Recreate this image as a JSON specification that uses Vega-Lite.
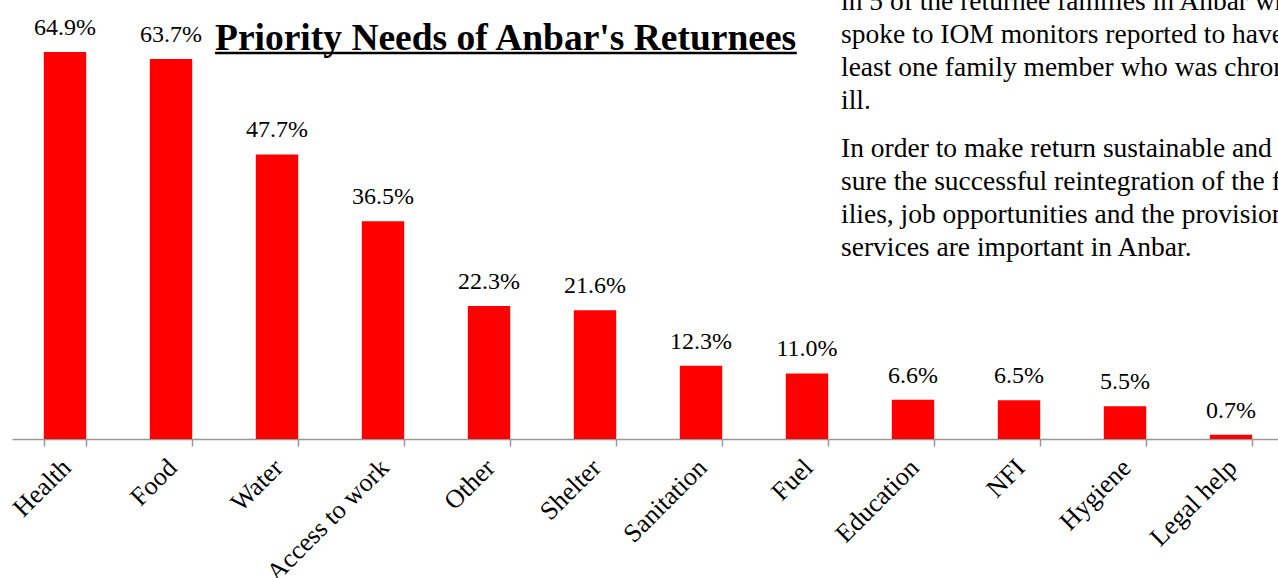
{
  "$schema": "https://vega.github.io/schema/vega-lite/v6.json",
  "width": 1272,
  "height": 439,
  "autosize": {"type": "none"},
  "padding": {"left": 12, "top": 0, "right": 0, "bottom": 139},
  "background": "white",
  "config": {"view": {"stroke": null}, "font": "Liberation Serif"},
  "title": {
    "text": "Priority Needs of Anbar's Returnees",
    "anchor": "start",
    "frame": "group",
    "dx": 203,
    "offset": -70,
    "fontSize": 37.5,
    "fontWeight": "bold",
    "font": "Liberation Serif",
    "color": "black"
  },
  "data": {
    "values": [
      {"need": "Health", "share": 0.649},
      {"need": "Food", "share": 0.637},
      {"need": "Water", "share": 0.477},
      {"need": "Access to work", "share": 0.365},
      {"need": "Other", "share": 0.223},
      {"need": "Shelter", "share": 0.216},
      {"need": "Sanitation", "share": 0.123},
      {"need": "Fuel", "share": 0.110},
      {"need": "Education", "share": 0.066},
      {"need": "NFI", "share": 0.065},
      {"need": "Hygiene", "share": 0.055},
      {"need": "Legal help", "share": 0.007}
    ]
  },
  "layer": [
    {
      "mark": {"type": "bar", "color": "#FF0000"},
      "encoding": {
        "x": {
          "field": "need",
          "type": "nominal",
          "sort": null,
          "scale": {"paddingInner": 0.6, "paddingOuter": 0.3},
          "axis": {
            "title": null,
            "labelAngle": -45,
            "labelFont": "Liberation Serif",
            "labelFontSize": 26,
            "labelColor": "black",
            "labelPadding": 8,
            "labelOffset": -8,
            "domainColor": "#999999",
            "domainWidth": 1.5,
            "tickColor": "#999999",
            "tickWidth": 1.5,
            "tickSize": 7,
            "tickBand": "extent",
            "grid": false
          }
        },
        "y": {
          "field": "share",
          "type": "quantitative",
          "scale": {"domain": [0, 0.736], "nice": false, "zero": true},
          "axis": null
        }
      }
    },
    {
      "mark": {"type": "text", "baseline": "alphabetic", "dy": -17, "fontSize": 24, "font": "Liberation Serif", "color": "black"},
      "encoding": {
        "x": {"field": "need", "type": "nominal", "sort": null},
        "y": {"field": "share", "type": "quantitative"},
        "text": {"field": "share", "format": ".1%"}
      }
    },
    {
      "data": {"values": [{"part": "title underline"}]},
      "mark": {"type": "rule", "color": "black", "strokeWidth": 2.5},
      "encoding": {
        "x": {"datum": "Food", "bandPosition": 1.54},
        "x2": {"datum": "Fuel", "bandPosition": 0.26},
        "y": {"datum": 0.6473}
      }
    },
    {
      "data": {"values": [{"part": "first"}]},
      "mark": {
        "type": "text",
        "align": "left",
        "baseline": "alphabetic",
        "dx": 34,
        "fontSize": 27.5,
        "lineHeight": 33,
        "font": "Liberation Serif",
        "color": "black"
      },
      "encoding": {
        "x": {"datum": "Fuel"},
        "y": {"datum": 0.7194},
        "text": {"value": ["in 5 of the returnee families in Anbar who", "spoke to IOM monitors reported to have at", "least one family member who was chronically", "ill."]}
      }
    },
    {
      "data": {"values": [{"part": "second"}]},
      "mark": {
        "type": "text",
        "align": "left",
        "baseline": "alphabetic",
        "dx": 34,
        "fontSize": 27.5,
        "lineHeight": 33,
        "font": "Liberation Serif",
        "color": "black"
      },
      "encoding": {
        "x": {"datum": "Fuel"},
        "y": {"datum": 0.4729},
        "text": {"value": ["In order to make return sustainable and en-", "sure the successful reintegration of the fam-", "ilies, job opportunities and the provision of", "services are important in Anbar."]}
      }
    }
  ]
}
